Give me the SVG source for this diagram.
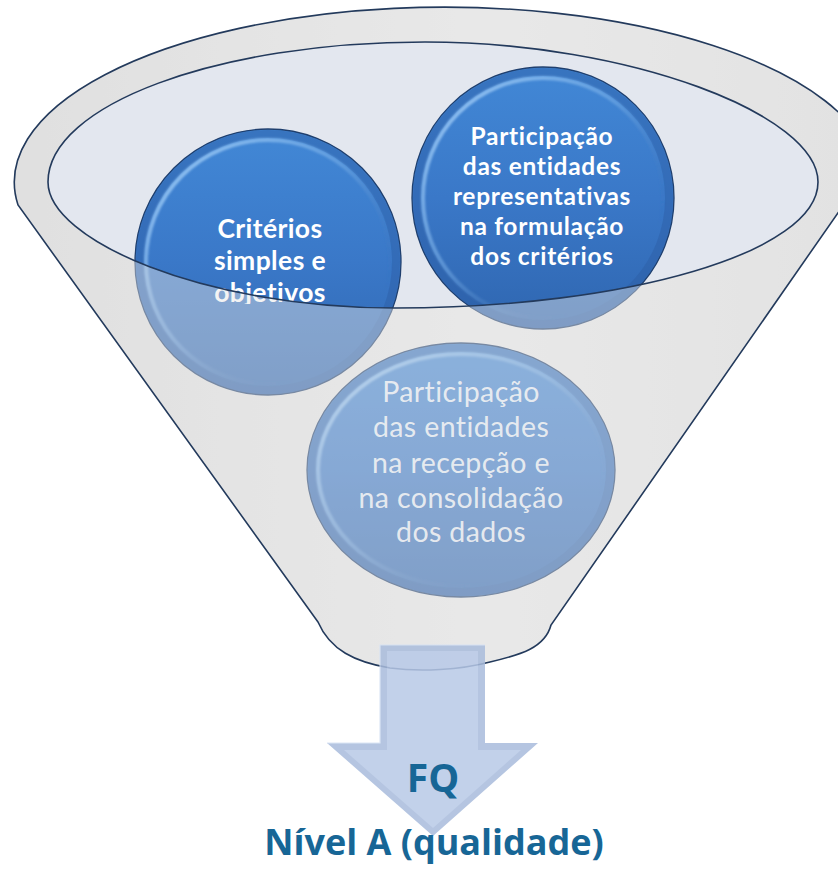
<svg xmlns="http://www.w3.org/2000/svg" width="838" height="869" viewBox="0 0 838 869">
<defs>
  <linearGradient id="bodyG" x1="0" y1="0" x2="1" y2="0">
    <stop offset="0" stop-color="#dcdcdc"/>
    <stop offset="0.55" stop-color="#ececec"/>
    <stop offset="1" stop-color="#e0e0e0"/>
  </linearGradient>
  <linearGradient id="ballG" x1="0" y1="0" x2="0" y2="1">
    <stop offset="0" stop-color="#4288d6"/>
    <stop offset="0.5" stop-color="#3a78c8"/>
    <stop offset="1" stop-color="#2f66b0"/>
  </linearGradient>
  <linearGradient id="rimG" x1="0" y1="0" x2="1" y2="1">
    <stop offset="0" stop-color="#a8d2fa" stop-opacity="0.95"/>
    <stop offset="0.45" stop-color="#7fb4ea" stop-opacity="0.5"/>
    <stop offset="0.8" stop-color="#2f62a8" stop-opacity="0"/>
  </linearGradient>
  <filter id="soft" x="-10%" y="-10%" width="120%" height="120%">
    <feGaussianBlur stdDeviation="1.3"/>
  </filter>
  <clipPath id="clipC1"><rect x="130" y="120" width="280" height="184"/></clipPath>
  <style>
    .edge{fill:none;stroke:#233a5c;stroke-width:1.6}
    .ball{fill:url(#ballG);stroke:#1f3f6e;stroke-width:1.3}
    .rim{fill:none;stroke:url(#rimG);stroke-width:4;filter:url(#soft)}
    .band{fill:none;stroke:#2c5ea4;stroke-width:8;stroke-opacity:0.45}
    .tb{font-family:Lato,"Open Sans",sans-serif;font-weight:bold;fill:#ffffff;text-anchor:middle}
    .tr{font-family:Lato,"Open Sans",sans-serif;fill:#ffffff;fill-opacity:0.9;text-anchor:middle}
    .lbl{font-family:"Open Sans","Noto Sans",sans-serif;font-weight:bold;fill:#176696;text-anchor:middle}
  </style>
</defs>
<rect width="838" height="869" fill="#ffffff"/>

<g id="funnel">
  <path id="funnelBody" d="M318,622 L18,205 A430,175 0 1 1 872,164 L551,625 C545,648 520,655 490,662 C460,670 420,672 390,668 C355,662 330,650 318,622 Z" fill="url(#bodyG)"/>
  <path id="funnelMouth" d="M48,182 C48,105 217,42 425,42 C630,42 818,115 818,182 C818,252 628,308 395,308 C203,308 48,240 48,182 Z" fill="#e3e7ef"/>
</g>

<g id="node-criterios">
  <circle class="ball" cx="268" cy="262" r="133"/>
  <circle class="band" cx="268" cy="262" r="128"/>
  <circle class="rim" cx="268" cy="262" r="122"/>
  <g clip-path="url(#clipC1)" letter-spacing="0.4">
    <text class="tb" font-size="26.5" x="270" y="238">Critérios</text>
    <text class="tb" font-size="26.5" x="270" y="270">simples e</text>
    <text class="tb" font-size="26.5" x="270" y="302">objetivos</text>
  </g>
</g>

<g id="node-formulacao" letter-spacing="0.7">
  <circle class="ball" cx="543" cy="198" r="131"/>
  <circle class="band" cx="543" cy="198" r="126"/>
  <circle class="rim" cx="543" cy="198" r="120"/>
  <text class="tb" font-size="24.5" x="542" y="145">Participação</text>
  <text class="tb" font-size="24.5" x="542" y="175">das entidades</text>
  <text class="tb" font-size="24.5" x="542" y="205">representativas</text>
  <text class="tb" font-size="24.5" x="542" y="235">na formulação</text>
  <text class="tb" font-size="24.5" x="542" y="265">dos critérios</text>
</g>

<g id="node-recepcao" letter-spacing="0.4">
  <ellipse class="ball" cx="461" cy="470" rx="154" ry="127"/>
  <ellipse class="band" cx="461" cy="470" rx="149" ry="122"/>
  <ellipse class="rim" cx="461" cy="470" rx="143" ry="116"/>
  <text class="tr" font-size="28.5" x="461" y="402">Participação</text>
  <text class="tr" font-size="28.5" x="461" y="437">das entidades</text>
  <text class="tr" font-size="28.5" x="461" y="473">na recepção e</text>
  <text class="tr" font-size="28.5" x="461" y="508">na consolidação</text>
  <text class="tr" font-size="28.5" x="461" y="542">dos dados</text>
</g>

<g id="funnel-front">
  <path d="M318,622 L18,205 A430,175 0 1 1 872,164 L551,625 C545,648 520,655 490,662 C460,670 420,672 390,668 C355,662 330,650 318,622 Z M48,182 C48,105 217,42 425,42 C630,42 818,115 818,182 C818,252 628,308 395,308 C203,308 48,240 48,182 Z" fill="#e4e4e4" fill-opacity="0.45" fill-rule="evenodd"/>
  <path class="edge" d="M48,182 C48,105 217,42 425,42 C630,42 818,115 818,182 C818,252 628,308 395,308 C203,308 48,240 48,182 Z"/>
  <path class="edge" d="M318,622 L18,205 A430,175 0 1 1 872,164 L551,625 C545,648 520,655 490,662 C460,670 420,672 390,668 C355,662 330,650 318,622 Z"/>
</g>

<g id="node-arrow" opacity="0.85">
  <polygon points="380,645 485,645 485,743 538,743 433,836 327,743 380,743" fill="#a9bcdc"/>
  <polygon points="387,651 478,651 478,750 521,750 433,828 344,750 387,750" fill="#b8c9e7"/>
  <polyline points="327,743 380,743 380,645 485,645" fill="none" stroke="#d6e2f4" stroke-width="1.2"/>
</g>
<text id="label-fq" class="lbl" font-size="39" x="433" y="792">FQ</text>
<text id="label-nivel" class="lbl" font-size="36" x="434" y="855">Nível A (qualidade)</text>
</svg>
